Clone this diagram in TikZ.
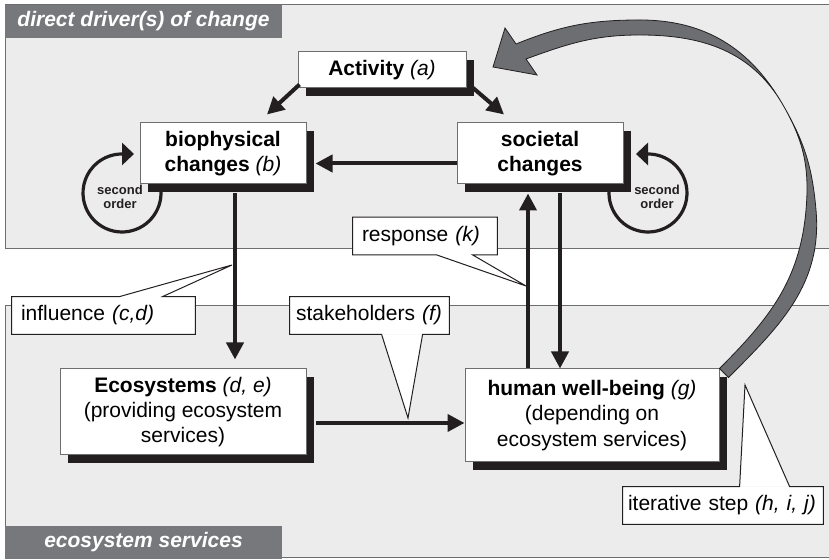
\documentclass[tikz,border=0pt]{standalone}
\usepackage{fontspec}
\setmainfont{Liberation Sans}
\usetikzlibrary{arrows.meta,calc,shadows}
\definecolor{Panel}{HTML}{ECECEC}
\definecolor{Tab}{HTML}{77787B}
\definecolor{Ink}{HTML}{231F20}
\definecolor{Rule}{HTML}{6D6E71}
\definecolor{Swoosh}{HTML}{6D6E71}
\tikzset{
 frame/.style={draw=Rule, line width=0.5pt},
 tab/.style={fill=Tab, text=white, font=\fontsize{10.5}{12.6}\selectfont\bfseries\itshape, minimum width=138.5pt, minimum height=16.5pt, inner sep=0pt},
 box/.style={draw=Rule, line width=0.5pt, fill=white, align=center, inner sep=2pt, drop shadow={shadow xshift=4pt, shadow yshift=-4pt, fill=Ink, opacity=1}},
 callout/.style={fill=white, align=left, inner xsep=4pt, inner ysep=0pt, minimum height=18.5pt},
 calloutline/.style={draw=Ink, line width=0.5pt},
 arrow/.style={-{Triangle[length=8.5pt,width=8.5pt]}, line width=2pt, draw=Ink},
 looparrow/.style={-{Triangle[length=6pt,width=11pt]}, line width=1.6pt, draw=Ink},
 order/.style={font=\fontsize{6.5}{7}\selectfont\bfseries, text=Ink, align=center, inner sep=0pt},
 swoosh/.style={fill=Swoosh, draw=Ink, line width=0.4pt}
}

\begin{document}
\begin{tikzpicture}[x=0.5pt,y=0.5pt,font=\fontsize{10.5}{12.6}\selectfont]
\useasboundingbox (0,0) rectangle (829,560);
% the two panels
\fill[Panel] (5,311) rectangle (829,555);
\draw[frame] (829,555) -- (5,555) -- (5,311) -- (829,311);
\fill[Panel] (5,2) rectangle (829,254);
\draw[frame] (829,254) -- (5,254) -- (5,2) -- (829,2);
\node[tab] (drvTab) at (143.5,538.5) {direct driver(s) of change};
\node[tab] (esTab) at (143.5,17.5) {ecosystem services};

% second order loops
\coordinate (loopLc) at (122,367);
\coordinate (loopRc) at (648,367);
\draw[looparrow] ($(loopLc)+(10:39)$) arc[start angle=10, end angle=-270, radius=39] -- ++(12,0);
\draw[looparrow] ($(loopRc)+(170:39)$) arc[start angle=170, end angle=450, radius=39] -- ++(-12,0);
\node[order] (loopL) at (120,363) {second\\order};
\node[order] (loopR) at (657,363) {second\\order};

% boxes
\node[box, minimum width=84pt, minimum height=18pt] (act) at (382,490) {\textbf{Activity} \textit{(a)}};
\node[box, minimum width=83pt, minimum height=30.5pt] (bio) at (223,406.5) {\textbf{biophysical}\\\textbf{changes} \textit{(b)}};
\node[box, minimum width=83pt, minimum height=30.5pt] (soc) at (540,406.5) {\textbf{societal}\\\textbf{changes}};
\node[box, minimum width=123pt, minimum height=43pt] (eco) at (183,148) {\textbf{Ecosystems} \textit{(d, e)}\\(providing ecosystem\\services)};
\node[box, minimum width=127pt, minimum height=46.5pt] (hum) at (592,144.5) {\textbf{human well-being} \textit{(g)}\\(depending on\\ecosystem services)};

% iterative step
\filldraw[swoosh] (hum.north east) to[out=45,in=-95] (806,350) to[out=85,in=-60] (783,455)
  to[out=120,in=0] (640,525) to[out=180,in=20] (526,501) -- (537,485) -- (493,493) -- (505,532) -- (516,516)
  to[out=22,in=180] (640,540) to[out=0,in=120] (783,455) to[out=-60,in=95] (816,350)
  to[out=-85,in=45] ([shift={(9,-9)}]hum.north east) -- cycle;

% connectors
\draw[arrow] ([shift={(2,4)}]act.south west) -- ([shift={(44,8)}]bio.north);
\draw[arrow] ([shift={(6,1)}]act.south east) -- ([shift={(-36,8)}]soc.north);
\draw[arrow] ([shift={(0,-10)}]soc.west) -- ([shift={(9,-10)}]bio.east);
\draw[arrow] ([shift={(12,-9)}]bio.south) -- ([shift={(52,9)}]eco.north);
\draw[arrow] ([shift={(9,-11)}]eco.east) -- ([shift={(0,-7.5)}]hum.west);
\draw[arrow] ([shift={(-64,0)}]hum.north) -- ([shift={(-12,-9)}]soc.south);
\draw[arrow] ([shift={(20,-9)}]soc.south) -- ([shift={(-32,0)}]hum.north);

% callouts
\coordinate (respTip) at (526,274);
\coordinate (inflTip) at (232,295);
\coordinate (stakeTip) at (408,142);
\coordinate (iterTip) at (745,175);
\node[callout, text width=63pt, inner xsep=4.5pt] (resp) at (425,324) {response \textit{(k)}};
\node[callout, text width=82.5pt, inner xsep=4.5pt] (infl) at (103.5,244.5) {influence \textit{(c,d)}};
\node[callout, text width=73.5pt, inner xsep=3pt] (stake) at (369.5,244.5) {stakeholders \textit{(f)}};
\node[callout, text width=95pt, inner xsep=2.5pt] (iter) at (723,54.5) {iterative step \textit{(h, i, j)}};

\fill[white] ([shift={(84,0)}]resp.south west) -- (respTip) -- ([shift={(120,0)}]resp.south west) -- cycle;
\draw[calloutline] (resp.south west) -- ++(84,0) -- (respTip) -- ([shift={(120,0)}]resp.south west)
  -- (resp.south east) -- (resp.north east) -- (resp.north west) -- cycle;
\fill[white] ([shift={(108,0)}]infl.north west) -- (inflTip) -- ([shift={(151,0)}]infl.north west) -- cycle;
\draw[calloutline] (infl.north west) -- ++(108,0) -- (inflTip) -- ([shift={(151,0)}]infl.north west)
  -- (infl.north east) -- (infl.south east) -- (infl.south west) -- cycle;
\fill[white] ([shift={(92,0)}]stake.south west) -- (stakeTip) -- ([shift={(133,0)}]stake.south west) -- cycle;
\draw[calloutline] (stake.south west) -- ++(92,0) -- (stakeTip) -- ([shift={(133,0)}]stake.south west)
  -- (stake.south east) -- (stake.north east) -- (stake.north west) -- cycle;
\fill[white] ([shift={(117,0)}]iter.north west) -- (iterTip) -- ([shift={(167,0)}]iter.north west) -- cycle;
\draw[calloutline] (iter.north west) -- ++(117,0) -- (iterTip) -- ([shift={(167,0)}]iter.north west)
  -- (iter.north east) -- (iter.south east) -- (iter.south west) -- cycle;
\end{tikzpicture}
\end{document}
